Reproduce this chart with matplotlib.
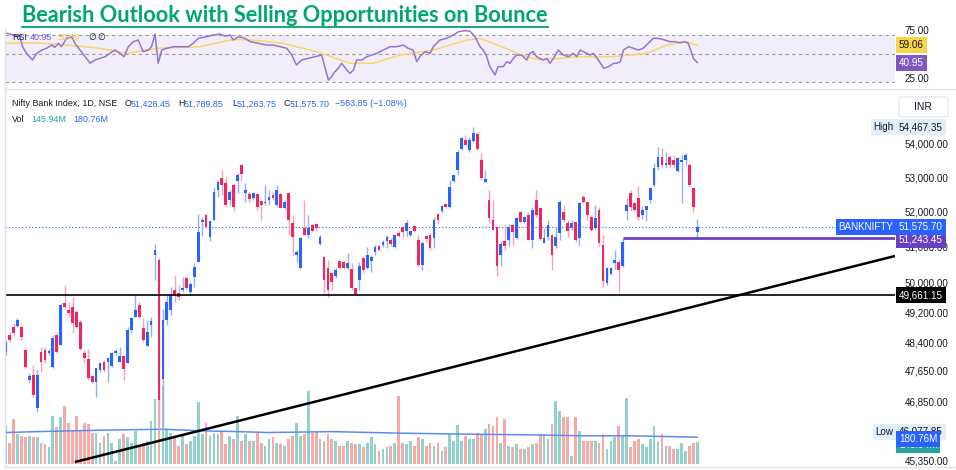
import numpy as np
import matplotlib.pyplot as plt
from matplotlib.lines import Line2D
from matplotlib.patches import FancyBboxPatch
from matplotlib.ticker import NullLocator, FixedLocator

# Nifty Bank daily candles
opens = [48140, 48590, 48800, 48830, 48800, 48190, 47400, 47540, 46680, 48140,
         48190, 48110, 47740, 48590, 48330, 49450, 49260, 49340, 49210, 48940,
         48100, 47950, 47510, 47350, 47660, 47880, 47880, 47770, 48110, 47880,
         48030, 47850, 48720, 49080, 49400, 48780, 48300, 48860, 50780, 50640,
         47440, 49000, 49260, 49810, 49720, 49810, 50140, 49750, 50160, 50580,
         51700, 51900, 51280, 51760, 52620, 52970, 52820, 52330, 52770, 52880,
         53350, 52540, 52510, 52390, 52510, 52300, 52250, 52330, 52480, 52190,
         52510, 52100, 52530, 51680, 50780, 50410, 51530, 51340, 51620, 51650,
         51080, 50720, 50410, 50280, 50190, 50610, 50580, 50410, 50390, 49860,
         50080, 50690, 50410, 50610, 50860, 51030, 51060, 51170, 51200, 51000,
         51400, 51560, 51450, 51340, 51590, 51200, 50500, 51310, 51340, 51250,
         51930, 52020, 52220, 52130, 52880, 53200, 53820, 54090, 53790, 54060,
         54270, 53500, 52850, 52330, 51760, 51560, 50780, 51170, 51200, 51620,
         51250, 51990, 51700, 51900, 51200, 52330, 52100, 51110, 51280, 51340,
         51030, 51390, 51990, 51680, 51530, 51700, 51250, 52420, 52280, 51840,
         51530, 52050, 51060, 50000, 50250, 50550, 50580, 50470, 52020, 52530,
         52250, 52390, 51900, 52050, 52330, 52770, 53290, 53590, 53350, 53590,
         53500, 53180, 53440, 53500, 53350, 52680, 51428.45]
highs = [48460, 48670, 48910, 49050, 48860, 48240, 47590, 47800, 47670, 48270,
         48270, 48220, 48590, 48640, 49450, 49950, 49480, 49620, 49260, 48990,
         48190, 48220, 47540, 47720, 47880, 47930, 48010, 48140, 48220, 48270,
         48060, 48800, 49040, 49670, 49480, 49040, 48990, 49080, 51090, 50690,
         49290, 49700, 49900, 50220, 49950, 50160, 50170, 50030, 50550, 51930,
         51840, 51930, 51730, 52700, 52910, 53200, 53000, 52620, 52820, 53120,
         53360, 52820, 52560, 52560, 52530, 52330, 52770, 52620, 52560, 52770,
         52530, 52330, 52530, 51900, 50920, 51280, 52330, 51900, 51650, 51680,
         51340, 50750, 50640, 50300, 50410, 50640, 50610, 50830, 50550, 49860,
         50580, 50720, 51000, 50780, 51050, 51060, 51200, 51340, 51250, 51340,
         51450, 51590, 51760, 51450, 51620, 51340, 51140, 51340, 51390, 51850,
         51960, 52190, 52250, 52910, 53060, 53790, 54180, 54240, 54180, 54467.35,
         54330, 53700, 53200, 52620, 52330, 51590, 51170, 51650, 51650, 51650,
         51840, 52020, 51870, 51990, 52130, 52620, 52130, 51530, 51760, 51340,
         51560, 52330, 52190, 51760, 51760, 51700, 52280, 52480, 52280, 51900,
         52190, 52130, 51340, 50440, 50440, 50920, 50640, 51243.45, 52390, 52620,
         52280, 52730, 52160, 52160, 52710, 53410, 53880, 53850, 53730, 53640,
         53640, 53590, 53640, 53700, 53410, 52710, 51789.85]
lows = [48060, 48410, 48570, 48800, 48460, 47720, 47330, 46960, 46580, 47610,
        47850, 48060, 47720, 48110, 48330, 49320, 49080, 48640, 48780, 48190,
        47850, 47410, 47330, 46960, 47610, 47610, 47350, 47740, 48060, 47880,
        47400, 47850, 48640, 49080, 49050, 48400, 48300, 48540, 50080, 46077.85,
        46130, 48850, 49130, 49480, 49530, 49750, 49810, 49670, 49890, 50580,
        51300, 51530, 51170, 51760, 52420, 52480, 52130, 52190, 52020, 52530,
        52880, 52270, 52270, 52330, 52050, 51760, 52190, 52190, 52330, 52130,
        52100, 52050, 51340, 50780, 50580, 50410, 51340, 51250, 51420, 51450,
        51050, 49730, 49620, 49810, 50140, 50410, 50380, 50360, 49810, 49670,
        49810, 50270, 50380, 50300, 50780, 50890, 51000, 50970, 51030, 50970,
        51280, 51280, 51280, 51310, 51420, 50440, 50360, 51140, 50920, 50970,
        51650, 51960, 52100, 52100, 52850, 53060, 53790, 53940, 53730, 54030,
        53790, 52910, 52850, 51680, 51480, 50190, 50470, 50920, 51030, 51060,
        51220, 51700, 51680, 51200, 50970, 51850, 51200, 51110, 51200, 50360,
        50970, 51200, 51700, 51280, 51480, 51140, 51030, 52250, 51760, 51450,
        51480, 51030, 49890, 49950, 50220, 50390, 49750, 50440, 51760, 52020,
        52020, 51760, 51790, 51730, 52250, 52710, 53200, 53260, 53260, 53260,
        53260, 53150, 52250, 53350, 52710, 51990, 51263.75]
closes = [48380, 48460, 48640, 48990, 48540, 47740, 47510, 47020, 47540, 47880,
          47930, 48170, 48510, 48140, 49400, 49350, 49180, 48910, 48810, 48220,
          47990, 47460, 47350, 47720, 47850, 47660, 47980, 48110, 48170, 48030,
          47690, 48720, 49040, 49260, 49080, 48460, 48670, 48970, 50920, 46890,
          48990, 49480, 49670, 49670, 49620, 49860, 49860, 49970, 50440, 51420,
          51760, 51560, 51730, 52560, 52850, 52770, 52190, 52560, 52130, 53060,
          53090, 52620, 52370, 52540, 52130, 52190, 52280, 52420, 52390, 52620,
          52100, 52280, 51760, 51280, 50860, 51250, 51340, 51530, 51450, 51540,
          51280, 50080, 49810, 50030, 50360, 50410, 50410, 50550, 49860, 49700,
          50470, 50360, 50780, 50720, 51000, 50920, 51140, 51280, 51080, 51340,
          51310, 51420, 51680, 51450, 51450, 50500, 51110, 51230, 50970, 51760,
          51760, 52160, 52130, 52710, 53060, 53730, 54150, 53940, 54090, 54300,
          53820, 52970, 52940, 51820, 51480, 50470, 51080, 51030, 51560, 51420,
          51810, 51700, 51850, 51200, 52050, 51900, 51230, 51250, 51620, 50780,
          51280, 52280, 51760, 51450, 51680, 51200, 52250, 52280, 51900, 51480,
          51820, 51110, 50050, 50410, 50410, 50640, 50360, 51140, 52190, 52130,
          52050, 51840, 52050, 52160, 52680, 53260, 53590, 53350, 53410, 53350,
          53350, 53560, 53500, 53640, 52770, 52140, 51575.70]
# volume in millions
volume = [257, 145, 302, 201, 190, 179, 190, 179, 179, 145,
          134, 112, 324, 246, 313, 391, 279, 223, 324, 223,
          279, 268, 212, 212, 145, 190, 212, 145, 22, 168,
          201, 179, 145, 223, 123, 145, 156, 290, 435, 650,
          525, 235, 212, 179, 123, 190, 134, 156, 190, 413,
          201, 279, 190, 212, 201, 223, 134, 190, 168, 324,
          156, 201, 156, 156, 212, 145, 123, 168, 179, 145,
          134, 123, 168, 190, 279, 190, 201, 491, 212, 223,
          168, 156, 201, 168, 156, 123, 123, 156, 145, 138,
          134, 112, 145, 179, 134, 89, 100, 112, 123, 145,
          458, 145, 134, 156, 123, 179, 167, 123, 145, 123,
          145, 89, 112, 201, 156, 263, 156, 190, 167, 167,
          212, 201, 234, 268, 257, 313, 145, 301, 123, 112,
          134, 100, 100, 112, 134, 145, 201, 201, 167, 268,
          424, 357, 313, 313, 56, 313, 223, 156, 156, 156,
          156, 145, 201, 100, 156, 179, 257, 190, 442, 112,
          156, 167, 134, 112, 167, 257, 156, 201, 123, 123,
          100, 100, 145, 89, 123, 145, 145.94]
# volume moving average, read at a few candles
vol_ma_pos = [0, 8, 25, 40, 50, 59, 67, 83, 100, 117, 134, 147, 159, 176]
vol_ma = [212, 218, 228, 234, 223, 218, 212, 218, 208, 201, 196, 190, 190, 180.76]

# RSI (purple) and its moving average (yellow), read along the pane
rsi_pos = [0.25, 1.9, 3.6, 4.3, 5.3, 6.8, 7.9, 9.2, 10.4, 11.7, 12.5, 13.4, 14.2,
           15.5, 16.8, 17.6, 18.9, 20.2, 21.5, 22.7, 24, 25.3, 26.5, 27.8, 29.1,
           30.1, 31.2, 32.5, 33.7, 35, 36.3, 37.1, 38, 38.8, 39.7, 41, 42.6, 44.8,
           46.5, 47.7, 49, 51.1, 52.8, 54.5, 55.8, 57.1, 57.9, 59.2, 60.9, 62.2,
           64.3, 66.4, 68.1, 69.8, 71.5, 72.8, 74, 75.3, 77, 78.7, 80.4, 81.2,
           82.1, 82.9, 83.8, 84.6, 85.5, 86.8, 87.6, 88.5, 89.3, 90.6, 91.9, 93.1,
           94.4, 96.1, 97.8, 99.5, 101.2, 102.4, 103.7, 104.6, 105.4, 106.7, 108,
           108.8, 110.5, 112.2, 113.9, 115.2, 116.9, 118.1, 119.4, 120.7, 121.5,
           122.4, 123.2, 124.5, 125.3, 126.6, 127.5, 128.3, 129.2, 130, 131.3,
           132.6, 133.4, 134.2, 135.1, 135.9, 136.8, 137.7, 138.5, 139.4, 140.6,
           141.9, 143.2, 144.4, 145.3, 146.2, 147, 147.9, 148.7, 149.6, 150.8,
           152.2, 153.4, 154.7, 155.5, 156.4, 157.2, 158.5, 159.7, 161, 162.2,
           163.5, 164.8, 166.1, 167.8, 169, 170.3, 171.6, 172.8, 173.7, 175, 176]
rsi = [71.8, 70, 68.2, 57.7, 50.7, 43.7, 50.7, 54.2, 56, 59.5, 57, 61.2, 57.7,
       66.5, 68.2, 61.2, 54.2, 47.2, 40.2, 43.7, 45.4, 47.2, 50.7, 54.2, 50.7,
       47.2, 57.7, 63, 64.7, 52.5, 54.2, 57.7, 71, 40.2, 54.2, 56, 57.7, 57.7,
       57.7, 61.2, 66.5, 68.2, 70, 71, 68.9, 70, 64.7, 68.2, 66.5, 63,
       61.2, 59.5, 59.5, 57.7, 56, 49, 38.4, 43.7, 45.4, 47.2, 48.9, 36.7,
       22.6, 26.1, 31.4, 34.9, 40.2, 33.2, 29.6, 33.2, 43.7, 43.7, 47.2, 48.9,
       50.7, 54.2, 57.7, 57.7, 59.5, 56, 54.2, 41.9, 47.2, 52.5, 50.7,
       57.7, 64.7, 66.5, 70, 73.5, 74.6, 74.2, 68.2, 57.7, 54.2,
       47.2, 36.7, 27.9, 36.7, 36.7, 41.9, 40.2, 45.4, 48.9, 48.9,
       43.7, 50.7, 52.5, 47.2, 45.4, 43.7, 45.4, 40.2, 45.4, 54.2,
       49, 47.2, 50.7, 47.2, 54.2, 52.5, 50.7, 48.9, 50.7, 43.7,
       34.9, 36.7, 40.2, 40.2, 41.9, 54.2, 57.7, 56, 54.2, 56,
       61.2, 66.5, 66.5, 64.7, 63, 63, 61.9, 63, 61.2, 45.4, 40.95]
rsi_ma_pos = [0.25, 7, 15.5, 24, 30.8, 38.4, 49.4, 57.9, 63, 70.6, 79.1, 87.6,
              93.5, 100.3, 108.8, 117.3, 120.7, 126.2, 131.3, 135.9, 146.2,
              154.7, 163.1, 168.2, 173.3, 176]
rsi_ma = [61.2, 61.9, 59.5, 56, 50.7, 56, 57.7, 65.4, 64.7, 61.2, 52.5, 40.2,
          40.2, 48.9, 54.2, 64.7, 66.5, 57.7, 48.9, 43.7, 47.2, 47.2, 50.7,
          59.5, 63, 59.06]
rsi_bands = [70, 50, 20]
rsi_ticks = [75, 25]

price_ticks = [54000, 53000, 52000, 51000, 50000, 49200, 48400, 47650, 46850, 45350]
support = 49661.15
resistance = 51243.45
trend_pos = [17.6, 226.3]
trend_price = [45313, 50748]

TITLE = "Bearish Outlook with Selling Opportunities on Bounce"
GREEN = '#00A66E'
BLUE = '#2962FF'
RED = '#F0265C'
BLUE_W = '#93AEFB'
RED_W = '#F5A3B9'
VOL_UP = '#92D2CC'
VOL_DN = '#F7A9A7'
PURPLE = '#7E57C2'
TXT = '#131722'
FONT = 'Liberation Sans'
FS = 7.1

W, H = 956, 470
fig = plt.figure(figsize=(W / 100, H / 100), dpi=100)


def fx(px):
    return px / W


def fy(py):
    return 1 - py / H


def axes_px(x0, y0, x1, y1):
    return fig.add_axes([fx(x0), fy(y1), (x1 - x0) / W, (y1 - y0) / H])


opens, highs, lows, closes = map(np.array, (opens, highs, lows, closes))
volume = np.array(volume)
pos = np.arange(len(opens))
up = closes >= opens
XLIM = (-0.18, 226.3)

# ---- volume (drawn first, under the candles) ----
axv = axes_px(5, 92, 895, 466)
axv.bar(pos, volume, width=0.7, color=np.where(up, VOL_UP, VOL_DN), zorder=1)
axv.plot(vol_ma_pos, vol_ma, color='#5B8CF5', lw=1.1, zorder=2)
axv.set_xlim(*XLIM)
axv.set_ylim(-12, 2490)
axv.axis('off')

# ---- price ----
ax = axes_px(5, 92, 895, 466)
ax.patch.set_alpha(0)
ax.set_yscale('log')
ax.set_xlim(*XLIM)
ax.set_ylim(45214, 55536)
ax.vlines(pos, lows, highs, colors=np.where(up, BLUE_W, RED_W), lw=1, zorder=3)
body = np.maximum(np.abs(closes - opens), 22)
ax.bar(pos, body, bottom=np.minimum(opens, closes), width=0.7,
       color=np.where(up, BLUE, RED), zorder=4)

ax.axhline(closes[-1], color=BLUE, lw=0.8, ls=(0, (1, 2)), zorder=2)
ax.axhline(support, color='black', lw=1.2, zorder=5)
ax.hlines(resistance, 157, XLIM[1], color='#6B40BF', lw=2, zorder=5)
ax.plot(trend_pos, trend_price, color='black', lw=1.8, zorder=5, solid_capstyle='butt')

ax.yaxis.tick_right()
ax.yaxis.set_major_locator(FixedLocator(price_ticks))
ax.yaxis.set_minor_locator(NullLocator())
ax.set_yticklabels([f"{v:,.2f}" for v in price_ticks], family=FONT)
ax.tick_params(axis='y', length=0, pad=7, labelsize=FS, labelcolor=TXT)
ax.set_xticks([])
for s in ax.spines.values():
    s.set_visible(False)

ytr = ax.get_yaxis_transform()
vtr = axv.get_yaxis_transform()


def tag(axis, x, y, text, bg, fg='white', ha='left', z=6, tr=None):
    axis.text(x, y, text, transform=tr, ha=ha, va='center', fontsize=FS,
              family=FONT, color=fg, zorder=z, clip_on=False,
              bbox=dict(boxstyle='square,pad=0.3', fc=bg, ec='none'))


tag(ax, 0.9985, highs.max(), "High", '#E3EEFB', TXT, ha='right', tr=ytr)
tag(ax, 1.0045, highs.max(), f"{highs.max():,.2f}", '#E3EEFB', TXT, tr=ytr)
tag(ax, 0.9985, closes[-1], "BANKNIFTY", BLUE, ha='right', tr=ytr)
tag(ax, 1.0045, closes[-1], f"{closes[-1]:,.2f}", BLUE, tr=ytr, z=8)
tag(ax, 1.0045, resistance - 40, f"{resistance:,.2f}", '#6B40BF', tr=ytr, z=7)
tag(ax, 1.0045, support, f"{support:,.2f}", 'black', tr=ytr)
tag(ax, 0.9985, lows.min(), "Low", '#E3EEFB', TXT, ha='right', tr=ytr)
tag(ax, 1.0045, lows.min(), f"{lows.min():,.2f}", '#E3EEFB', TXT, tr=ytr)
# volume tags sit on top of the low tag, as in the reference
tag(ax, 1.0045, volume[-1] - 15, f"{volume[-1]:.2f}M", '#26A69A', tr=vtr, z=7)
tag(ax, 1.0045, vol_ma[-1] - 15, f"{vol_ma[-1]:.2f}M", BLUE, tr=vtr, z=8)

# ---- RSI pane ----
axr = axes_px(5, 28, 895, 88)
axr.set_xlim(*XLIM)
axr.set_ylim(14.2, 77.4)
axr.axhspan(rsi_bands[2], rsi_bands[0], color='#F2EEF9', lw=0, zorder=0)
for b in rsi_bands:
    axr.axhline(b, color='#9598A1', lw=0.8, ls=(0, (3, 3)), zorder=1)
axr.plot(rsi_ma_pos, rsi_ma, color='#F8D66A', lw=1.1, zorder=2)
axr.plot(rsi_pos, rsi, color='#9575CD', lw=1.1, zorder=3)
axr.yaxis.tick_right()
axr.set_yticks(rsi_ticks)
axr.set_yticklabels([f"{v:.2f}" for v in rsi_ticks], family=FONT)
axr.tick_params(axis='y', length=0, pad=7, labelsize=FS, labelcolor=TXT)
axr.set_xticks([])
for s in axr.spines.values():
    s.set_visible(False)
rtr = axr.get_yaxis_transform()
tag(axr, 1.0045, rsi_ma[-1], f"{rsi_ma[-1]:.2f}", '#F9D34A', TXT, tr=rtr)
tag(axr, 1.0045, rsi[-1], f"{rsi[-1]:.2f}", PURPLE, tr=rtr)

# ---- frame lines ----
for yy in (89, 467):
    fig.add_artist(Line2D([fx(5), 1], [fy(yy)] * 2, color='#E0E3EB', lw=1))
fig.add_artist(Line2D([fx(5)] * 2, [fy(28), fy(467)], color='#E0E3EB', lw=1))
fig.add_artist(FancyBboxPatch((fx(899), fy(117)), 49 / W, 20 / H,
                              boxstyle='round,pad=0,rounding_size=0.004',
                              transform=fig.transFigure, fc='white', ec='#E0E3EB', lw=0.8))
fig.text(fx(923), fy(107), "INR", ha='center', va='center', fontsize=7.5, family=FONT, color=TXT)

# ---- header texts ----
HFS = 6.4
hdr = [(12, "Nifty Bank Index, 1D, NSE", TXT), (125, "O", TXT), (131, "51,428.45", BLUE),
       (178, "H", TXT), (184, "51,789.85", BLUE), (232, "L", TXT), (237, "51,263.75", BLUE),
       (284, "C", TXT), (290, "51,575.70", BLUE), (335, "\u2212563.85 (\u22121.08%)", BLUE)]
for x, s, c in hdr:
    fig.text(fx(x), fy(104), s, fontsize=HFS, family=FONT, color=c, va='center')
for x, s, c in [(12, "Vol", TXT), (31, "145.94M", '#26A69A'), (73, "180.76M", BLUE)]:
    fig.text(fx(x), fy(119), s, fontsize=HFS, family=FONT, color=c, va='center')
for x, s, c in [(12, "RSI", TXT), (30, "40.95", PURPLE), (58, "59.06", '#F2C94C'),
                (88, "\u2205", TXT), (97, "\u2205", TXT)]:
    fig.text(fx(x), fy(37), s, fontsize=HFS, family=[FONT, 'DejaVu Sans'], color=c, va='center')

# ---- title, stretched to the reference width and underlined ----
title = fig.text(fx(22), fy(15), TITLE, fontsize=13, fontweight='bold', color=GREEN,
                 family=['Lato', 'DejaVu Sans'], va='center', ha='left')
fig.canvas.draw()
r = fig.canvas.get_renderer()
bb = title.get_window_extent(r)
title.set_fontsize(13 * 524 / bb.width)
fig.canvas.draw()
bb = title.get_window_extent(r)
fig.add_artist(Line2D([bb.x0 / W, bb.x1 / W], [fy(26.5)] * 2, color=GREEN, lw=1.3))

fig.savefig('out.png', dpi=100)
